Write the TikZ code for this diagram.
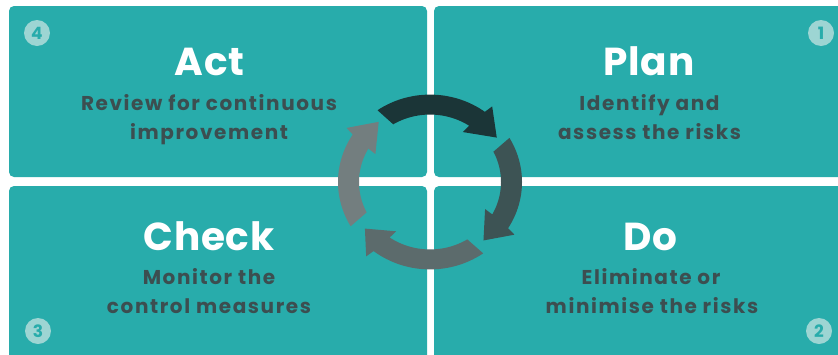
\documentclass[tikz,border=0pt]{standalone}
\usepackage{fontspec}
\setmainfont{Poppins}
\newfontfamily\subfont[LetterSpace=8]{Poppins}
\newfontfamily\titlefont[LetterSpace=2]{Poppins}
\definecolor{pdcateal}{HTML}{28ACAB}
\definecolor{badgefill}{HTML}{9DD5D3}
\definecolor{subgray}{HTML}{3C4E50}
\definecolor{arrowA}{HTML}{1B3537}
\definecolor{arrowB}{HTML}{3D5354}
\definecolor{arrowC}{HTML}{5C6B6C}
\definecolor{arrowD}{HTML}{737E7F}
\newcommand\cyclearrow[4]{%
  \pgfmathsetmacro\cyTa{#1+1.8}\pgfmathsetmacro\cyTb{#1-1.8}%
  \pgfmathsetmacro\cyBa{#2-1.6}\pgfmathsetmacro\cyBb{#2+1.6}%
  \pgfmathsetmacro\cyWa{#2-3}\pgfmathsetmacro\cyWb{#2+3}%
  \fill[#4] plot[domain=\cyTa:\cyBa, samples=40] (\x:92) -- (\cyWa:101) -- (#3:81.5)
    -- (\cyWb:62) -- plot[domain=\cyBb:\cyTb, samples=40] (\x:71) -- cycle;}
\begin{document}
\begin{tikzpicture}[x=1pt,y=-1pt,
  panel/.style={fill=pdcateal, rounded corners=5pt},
  title/.style={anchor=base, text=white, inner sep=0pt, font=\titlefont\bfseries\fontsize{39}{42}\selectfont},
  sub/.style={anchor=base, text=subgray, inner sep=0pt, font=\subfont\bfseries\fontsize{20}{22}\selectfont},
  badge/.style={circle, fill=badgefill, text=pdcateal, minimum size=26pt, inner sep=0pt, font=\bfseries\fontsize{17}{17}\selectfont}]
\useasboundingbox (0,0) rectangle (838,354);
\begin{scope}
  \clip (0,0) rectangle (838,354);
  \fill[white] (0,0) rectangle (838,354);
  \path[panel] (9,6) rectangle (427,177);
  \path[panel] (434,6) rectangle (850,177);
  \path[panel] (9,186) rectangle (427,365);
  \path[panel] (434,186) rectangle (850,365);
\end{scope}
% badges
\node[badge] (b4) at (37,33) {4};
\node[badge] (b1) at (821,33) {1};
\node[badge] (b3) at (38,331) {3};
\node[badge] (b2) at (819,331) {2};
% texts
\node[title] (act) at (209.5,75) {Act};
\node[sub] (actA) at (209,110) {Review for continuous};
\node[sub] (actB) at (209,139) {improvement};
\node[title] (plan) at (649,75) {Plan};
\node[sub] (planA) at (649.5,110) {Identify and};
\node[sub] (planB) at (649.5,139) {assess the risks};
\node[title] (check) at (209,250) {Check};
\node[sub] (checkA) at (209,284) {Monitor the};
\node[sub] (checkB) at (209,313) {control measures};
\node[title] (do) at (650,250) {Do};
\node[sub] (doA) at (651,284) {Eliminate or};
\node[sub] (doB) at (652,313) {minimise the risks};
% cycle arrows
\begin{scope}[shift={(430,182)}, yscale=-0.95]
  \cyclearrow{123}{55}{35}{arrowA}
  \cyclearrow{28.5}{-30.3}{-49}{arrowB}
  \cyclearrow{-56.5}{-126.2}{-143}{arrowC}
  \cyclearrow{208.6}{148.7}{129}{arrowD}
\end{scope}
\end{tikzpicture}
\end{document}
